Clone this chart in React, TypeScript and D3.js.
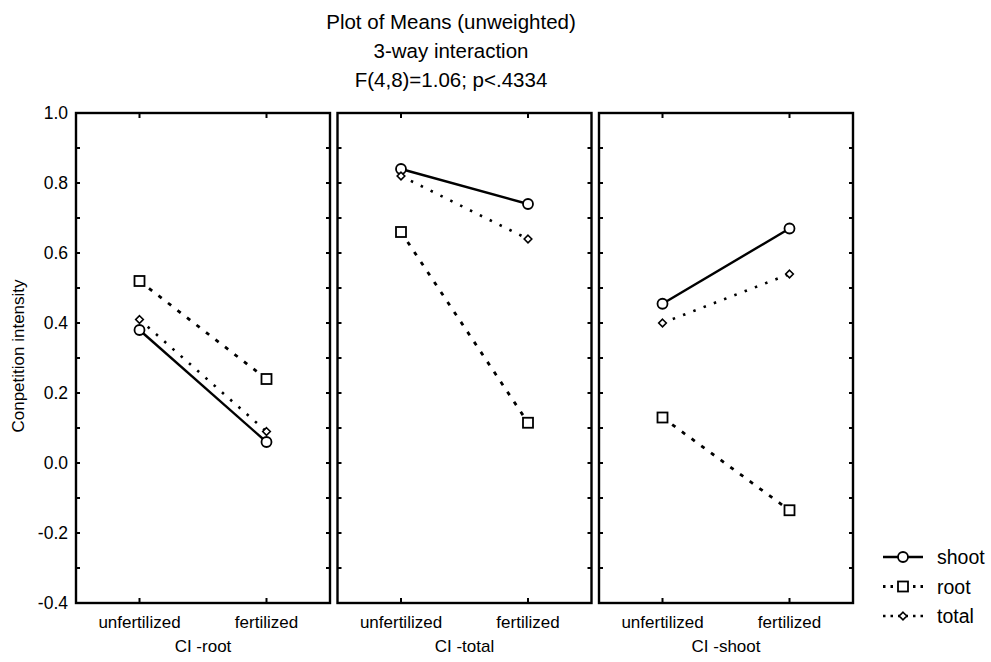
import React from "react";
import * as d3 from "d3";

const titleLines = ["Plot of Means (unweighted)", "3-way interaction", "F(4,8)=1.06; p<.4334"];
const categories = ["unfertilized", "fertilized"];
const panels = ["CI -root", "CI -total", "CI -shoot"];
const shootValues = [[0.38, 0.06], [0.84, 0.74], [0.455, 0.67]];
const rootValues = [[0.52, 0.24], [0.66, 0.115], [0.13, -0.135]];
const totalValues = [[0.41, 0.09], [0.82, 0.64], [0.40, 0.54]];
const yTicks = [-0.4, -0.2, 0.0, 0.2, 0.4, 0.6, 0.8, 1.0];
const yMinorTicks = [-0.3, -0.1, 0.1, 0.3, 0.5, 0.7, 0.9];
const seriesNames = ["shoot", "root", "total"];

const W = 991, H = 662;
const FONT = "'Liberation Sans', Arial, Helvetica, sans-serif";

export default function App() {
  const y = d3.scaleLinear().domain([-0.4, 1.0]).range([603, 113]);
  const px = d3.scaleBand<string>().domain(panels).range([76, 853]).paddingInner(0.0287);
  const bw = px.bandwidth();
  const cx = d3.scalePoint<string>().domain(categories).range([0, bw]).padding(0.5);
  const line = d3.line<[number, number]>().x(d => d[0]).y(d => d[1]);

  const seriesData = [shootValues, rootValues, totalValues];
  const styles = [
    { dash: "none", width: 2.4 },
    { dash: "4 8", width: 2.8 },
    { dash: "2.5 8.5", width: 2.6 },
  ];

  const marker = (k: number, x: number, yy: number, key: string) => {
    if (k === 0) return <circle key={key} cx={x} cy={yy} r={5} fill="white" stroke="black" strokeWidth={1.8} />;
    if (k === 1) return <rect key={key} x={x - 5} y={yy - 5} width={10} height={10} fill="white" stroke="black" strokeWidth={1.8} />;
    const s = 3.8;
    return <path key={key} d={`M${x},${yy - s}L${x + s},${yy}L${x},${yy + s}L${x - s},${yy}Z`} fill="white" stroke="black" strokeWidth={1.6} />;
  };

  return (
    <svg width={W} height={H} style={{ position: "fixed", left: 0, top: 0, background: "white" }} fontFamily={FONT}>
      <rect x={0} y={0} width={W} height={H} fill="white" />
      {titleLines.map((t, i) => (
        <text key={t} x={451} y={21 + i * 29} textAnchor="middle" dominantBaseline="central" fontSize={20.5}>{t}</text>
      ))}
      <text transform={`translate(18,356) rotate(-90)`} textAnchor="middle" dominantBaseline="central" fontSize={17}>Conpetition intensity</text>
      {yTicks.map(v => (
        <text key={v} x={68} y={y(v)} textAnchor="end" dominantBaseline="central" fontSize={17.5}>{v.toFixed(1)}</text>
      ))}
      {panels.map((p, pi) => {
        const x0 = px(p)!;
        return (
          <g key={p}>
            <rect x={x0} y={y(1.0)} width={bw} height={y(-0.4) - y(1.0)} fill="none" stroke="black" strokeWidth={2.4} />
            {[...yTicks, ...yMinorTicks].map(v => (
              <g key={v}>
                <line x1={x0} x2={x0 + 4} y1={y(v)} y2={y(v)} stroke="black" strokeWidth={2} />
                <line x1={x0 + bw - 4} x2={x0 + bw} y1={y(v)} y2={y(v)} stroke="black" strokeWidth={2} />
              </g>
            ))}
            {categories.map(c => (
              <g key={c}>
                <line x1={x0 + cx(c)!} x2={x0 + cx(c)!} y1={y(1.0)} y2={y(1.0) + 5} stroke="black" strokeWidth={2} />
                <line x1={x0 + cx(c)!} x2={x0 + cx(c)!} y1={y(-0.4)} y2={y(-0.4) - 5} stroke="black" strokeWidth={2} />
                <text x={x0 + cx(c)!} y={622} textAnchor="middle" dominantBaseline="central" fontSize={17}>{c}</text>
              </g>
            ))}
            <text x={x0 + bw / 2} y={646} textAnchor="middle" dominantBaseline="central" fontSize={17}>{p}</text>
            {seriesData.map((sd, k) => {
              const pts: [number, number][] = categories.map((c, ci) => [x0 + cx(c)!, y(sd[pi][ci])]);
              return (
                <g key={k}>
                  <path d={line(pts)!} fill="none" stroke="black" strokeWidth={styles[k].width} strokeDasharray={styles[k].dash} />
                  {pts.map((pt, j) => marker(k, pt[0], pt[1], `m${j}`))}
                </g>
              );
            })}
          </g>
        );
      })}
      {seriesNames.map((s, k) => {
        const yy = 557 + k * 29.5;
        return (
          <g key={s}>
            <path d={line([[883, yy], [923, yy]])!} fill="none" stroke="black" strokeWidth={styles[k].width} strokeDasharray={k === 0 ? "none" : "2.5 5"} />
            {marker(k, 903, yy, "lm")}
            <text x={937} y={yy} dominantBaseline="central" fontSize={19.5}>{s}</text>
          </g>
        );
      })}
    </svg>
  );
}
